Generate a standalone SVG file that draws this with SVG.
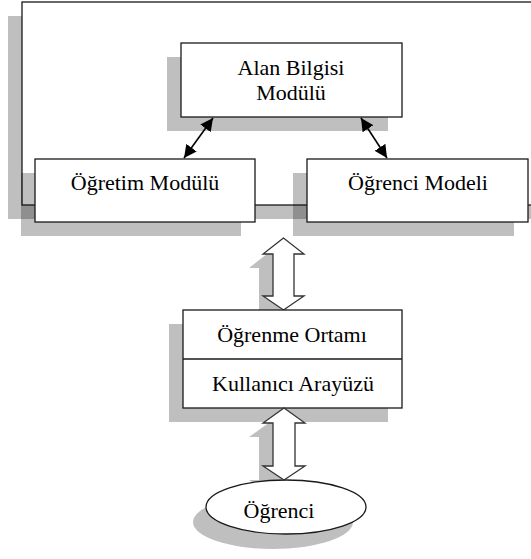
<svg xmlns="http://www.w3.org/2000/svg" width="531" height="559" viewBox="0 0 531 559">
  <style>
    .box { fill: #ffffff; stroke: #1a1a1a; stroke-width: 1.3; }
    .shadow { fill: #000000; fill-opacity: 0.25; stroke: none; }
    .conn { stroke: #000000; stroke-width: 1.6; fill: none; }
    .hollow { fill: #ffffff; stroke: #333333; stroke-width: 1.3; stroke-linejoin: miter; }
  </style>
  <defs>
    <marker id="head" viewBox="0 0 10 10" refX="10" refY="5" markerWidth="8" markerHeight="8" orient="auto-start-reverse">
      <path d="M0,0 L10,5 L0,10 z" fill="#000000"/>
    </marker>
  </defs>
  <rect width="531" height="559" fill="#ffffff"/>

  <g id="outer">
    <rect class="shadow" x="8" y="16" width="560" height="203"/>
    <rect class="box" x="22" y="2" width="560" height="203"/>
  </g>

  <g font-family="Liberation Serif, Times New Roman, serif" font-size="22" fill="#000000" text-anchor="middle">
    <g id="alan-bilgisi">
      <rect class="shadow" x="167" y="57" width="221" height="74"/>
      <rect class="box" x="181" y="43" width="221" height="74"/>
      <text x="291" y="75">Alan Bilgisi</text>
      <text x="291" y="100">Modülü</text>
    </g>

    <g id="ogretim-modulu">
      <rect class="shadow" x="21" y="173" width="220" height="63"/>
      <rect class="box" x="35" y="159" width="220" height="63"/>
      <text x="145" y="190">Öğretim Modülü</text>
    </g>

    <g id="ogrenci-modeli">
      <rect class="shadow" x="293" y="173" width="221" height="63"/>
      <rect class="box" x="307" y="159" width="221" height="63"/>
      <text x="418" y="190">Öğrenci Modeli</text>
    </g>

    <g id="connectors">
      <line class="conn" x1="213" y1="118" x2="184" y2="158" marker-start="url(#head)" marker-end="url(#head)"/>
      <line class="conn" x1="361" y1="118" x2="387" y2="158" marker-start="url(#head)" marker-end="url(#head)"/>
      <polygon class="shadow" points="269.5,252 249,268 259,268 259,310 249,310 269.5,324 290,310 280,310 280,268 290,268"/>
      <polygon class="hollow" points="283.5,238 263,254 273,254 273,296 263,296 283.5,310 304,296 294,296 294,254 304,254"/>
      <polygon class="shadow" points="270,422 249,437 259,437 259,480 249,480 270,494 291,480 281,480 281,437 291,437"/>
    </g>

    <g id="ogrenme-ortami">
      <rect class="shadow" x="169" y="324" width="219" height="98"/>
      <rect class="box" x="183" y="310" width="219" height="98"/>
      <line class="box" x1="183" y1="359" x2="402" y2="359"/>
      <text x="292" y="342">Öğrenme Ortamı</text>
      <text x="293" y="391">Kullanıcı Arayüzü</text>
    </g>

    <g id="ogrenci">
      <ellipse class="shadow" cx="273" cy="522" rx="80" ry="27"/>
      <ellipse class="box" cx="286" cy="507" rx="80" ry="27"/>
      <text x="279" y="518">Öğrenci</text>
    </g>

    <g id="connectors-2">
      <polygon class="hollow" points="284,408 263,423 273,423 273,466 263,466 284,480 305,466 295,466 295,423 305,423"/>
    </g>
  </g>
</svg>
